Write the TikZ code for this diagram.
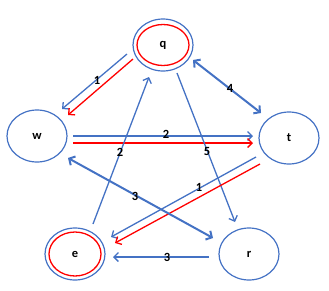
\documentclass[tikz,border=0pt]{standalone}
\usepackage{fontspec}
\setmainfont{Carlito}
\usetikzlibrary{arrows.meta,shapes.geometric,calc}
\definecolor{ob}{RGB}{68,114,196}
\definecolor{rd}{RGB}{255,0,0}
\tikzset{
  st/.style={ellipse,draw=ob,line width=1.2pt,minimum width=60pt,minimum height=52pt,inner sep=0pt,font=\bfseries\fontsize{12.5}{14}\selectfont},
  be/.style={draw=ob,line width=1.3pt,-{Straight Barb[length=4.5pt,width=9pt]}},
  bt/.style={draw=ob,line width=2pt,{Straight Barb[length=4.5pt,width=10pt]}-{Straight Barb[length=4.5pt,width=10pt]}},
  re/.style={draw=rd,line width=1.3pt,-{Straight Barb[length=4.5pt,width=9pt]}},
  lb/.style={font=\bfseries\fontsize{12.5}{14}\selectfont,inner sep=0pt}
}
\begin{document}
\begin{tikzpicture}[x=1pt,y=-1pt]
\useasboundingbox (0,0) rectangle (329,290);
\node[st] (q) at (163,45) {q};
\draw[rd,line width=1.3pt] (q) ellipse [x radius=26,y radius=20.5];
\node[st] (w) at (37,136) {w};
\node[st] (t) at (289,138) {t};
\node[st] (e) at (75,254) {e};
\draw[rd,line width=1.3pt] (e) ellipse [x radius=26,y radius=22];
\node[st] (r) at (249,254) {r};
% endpoints
\coordinate (qw1) at ($(q)+(-36,9)$);
\coordinate (wq1) at ($(w)+(25,-27)$);
\coordinate (qw2) at ($(q)+(-30,14)$);
\coordinate (wq2) at ($(w)+(31,-21)$);
\coordinate (wt1) at ($(w)+(36,0)$);
\coordinate (tw1) at ($(t)+(-36,-2)$);
\coordinate (wt2) at ($(w)+(36,7)$);
\coordinate (tw2) at ($(t)+(-36,5)$);
\coordinate (eq) at ($(e)+(18,-30)$);
\coordinate (qe) at ($(q)+(-14,32)$);
\coordinate (qr) at ($(q)+(14,28)$);
\coordinate (rq) at ($(r)+(-14,-32)$);
\coordinate (qt) at ($(q)+(30,15)$);
\coordinate (tq) at ($(t)+(-28,-25)$);
\coordinate (te1) at ($(t)+(-33,19)$);
\coordinate (et1) at ($(e)+(36,-17)$);
\coordinate (te2) at ($(t)+(-29,26)$);
\coordinate (et2) at ($(e)+(40,-11)$);
\coordinate (wr) at ($(w)+(31,22)$);
\coordinate (rw) at ($(r)+(-36,-16)$);
\coordinate (re) at ($(r)+(-40,3)$);
\coordinate (er) at ($(e)+(38,3)$);
% edges
\draw[be] (qw1) -- (wq1);
\draw[re] (qw2) -- (wq2);
\draw[be] (wt1) -- (tw1);
\draw[re] (wt2) -- (tw2);
\draw[be] (eq) -- (qe);
\draw[be] (qr) -- (rq);
\draw[bt] (qt) -- (tq);
\draw[be] (te1) -- (et1);
\draw[re] (te2) -- (et2);
\draw[bt] (wr) -- (rw);
\draw[be] (re) -- (er);
% labels
\node[lb] (l1) at (97,80) {1};
\node[lb] (l2) at (166,134) {2};
\node[lb] (l3) at (120,152) {2};
\node[lb] (l4) at (207,151) {5};
\node[lb] (l5) at (230,88) {4};
\node[lb] (l6) at (199,187) {1};
\node[lb] (l7) at (135,196) {3};
\node[lb] (l8) at (167,257) {3};
\end{tikzpicture}
\end{document}
